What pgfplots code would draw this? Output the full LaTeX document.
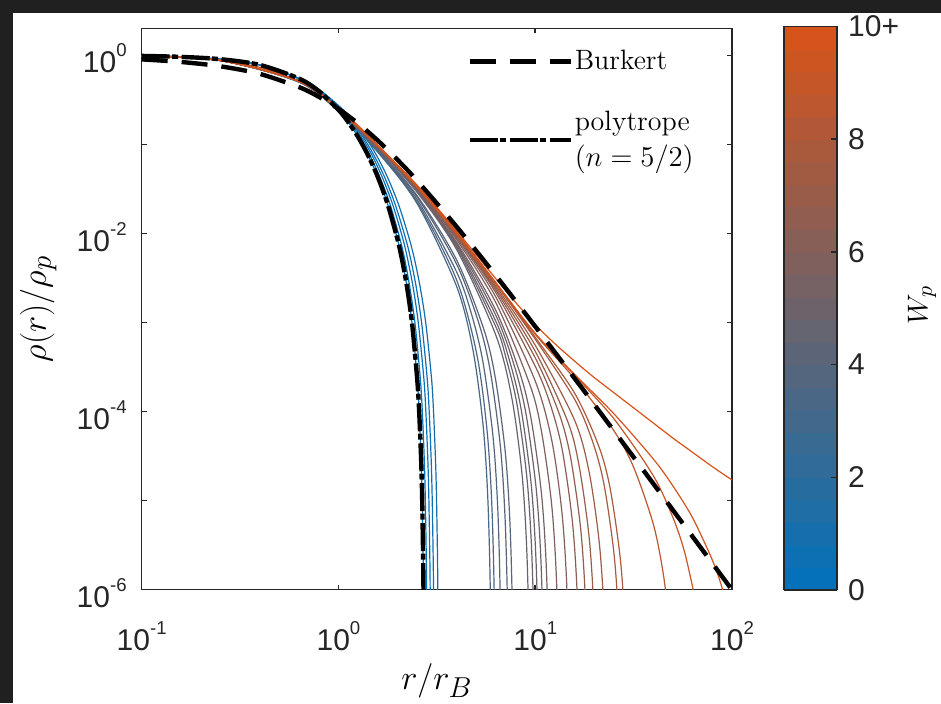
\documentclass[border=0pt]{standalone}
\usepackage{pgfplots}
\pgfplotsset{compat=1.18}
\usepackage{fontspec}
\newfontfamily\arial{Liberation Sans}
\definecolor{wBl}{RGB}{0,114,189}
\definecolor{wOr}{RGB}{217,83,25}
\definecolor{axc}{RGB}{38,38,38}
\definecolor{frame}{RGB}{32,32,32}
\newcommand{\tl}[1]{\mbox{\arial 10\raisebox{8pt}{\fontsize{9.3}{10}\selectfont #1}}}
\begin{document}
\begin{tikzpicture}
\useasboundingbox (0,0) rectangle (470.5pt,351.5pt);
\fill[frame] (0,0) rectangle (470.5pt,351.5pt);
\fill[white] (6.25pt,0) rectangle (470.5pt,345pt);
\begin{axis}[
 at={(70.85pt,56.75pt)}, anchor=south west,
 scale only axis, width=295.15pt, height=280.5pt,
 xmin=-1, xmax=2, ymin=-6, ymax=0.301,
 xtick={-1,0,1,2}, xticklabels={{\tl{-1}},{\tl{0}},{\tl{1}},{\tl{2}}},
 ytick={-6,-5,-4,-3,-2,-1,0}, yticklabels={{\tl{-6}},{},{\tl{-4}},{},{\tl{-2}},{},{\tl{0}}},
 tick align=inside, major tick length=2.5pt,
 ticklabel style={font=\fontsize{15}{18}\selectfont\arial, inner sep=0pt, text=axc},
 xticklabel style={anchor=base, yshift=-30.25pt},
 yticklabel style={anchor=base east, xshift=-7.35pt, yshift=-8.85pt},
 axis line style={axc, line width=0.75pt},
 every tick/.style={axc, line width=0.75pt},
 xlabel={$r/r_B$}, ylabel={$\rho(r)/\rho_p$},
 label style={font=\fontsize{19}{22}\selectfont, inner sep=0pt},
 xlabel style={at={(axis description cs:0.5,-0.131)}, anchor=north},
 ylabel style={at={(axis description cs:-0.1435,0.5)}, anchor=south},
 legend style={draw=none, fill=none, at={(axis description cs:0.551,0.962)}, anchor=north west,
   inner sep=0pt, font=\fontsize{14}{18}\selectfont, row sep=19pt, column sep=1pt,
   nodes={inner sep=0pt}, cells={anchor=west, align=left}},
 legend cell align=left,
 legend image code/.code={\draw[#1] (0pt,0pt) -- (50.5pt,0pt);},
 colormap={wpmap}{rgb255=(0,114,189) rgb255=(217,83,25)},
 point meta min=0, point meta max=10,
 colorbar sampled,
 colorbar style={
   samples=26, scale only axis,
   at={(parent axis.south east)}, anchor=south west,
   xshift=17.36pt, yshift=-0.25pt,
   width=26.5pt, height=281.75pt,
   ytick={0,2,4,6,8,10}, yticklabels={0,2,4,6,8,10+},
   ytick pos=right, yticklabel pos=right,
   tick align=inside, major tick length=3pt,
   every tick/.style={axc, line width=0.75pt},
   axis line style={axc, line width=0.75pt},
   yticklabel style={font=\fontsize{15}{18}\selectfont\arial, anchor=west, xshift=5.5pt, inner sep=0pt, text=axc},
 },
 every axis plot/.append style={line width=0.6pt},
]
% ---- W_p family (log10 r, log10 rho) ----
\addplot[wBl, smooth, forget plot] coordinates {(-1,-0.007) (-0.8,-0.018) (-0.6,-0.044) (-0.4,-0.108) (-0.2,-0.262) (-0.1,-0.402) (0,-0.612) (0.05,-0.751) (0.1,-0.918) (0.15,-1.121) (0.2,-1.367) (0.25,-1.673) (0.3,-2.067) (0.325,-2.316) (0.35,-2.625) (0.375,-3.030) (0.4,-3.632) (0.41,-3.996) (0.42,-4.533) (0.425,-4.940) (0.43,-5.595) (0.432,-6.0) (0.4345,-7.0)};
\addplot[wOr!2!wBl, smooth, forget plot] coordinates {(-1,-0.007) (-0.8,-0.018) (-0.6,-0.044) (-0.4,-0.108) (-0.2,-0.262) (-0.097,-0.402) (0.005,-0.612) (0.0565,-0.751) (0.108,-0.918) (0.159,-1.121) (0.210,-1.367) (0.262,-1.673) (0.313,-2.067) (0.339,-2.316) (0.364,-2.625) (0.390,-3.030) (0.416,-3.632) (0.426,-3.996) (0.436,-4.533) (0.441,-4.940) (0.446,-5.595) (0.448,-6.0) (0.450,-7.0)};
\addplot[wOr!4!wBl, smooth, forget plot] coordinates {(-1,-0.007) (-0.8,-0.018) (-0.6,-0.044) (-0.4,-0.108) (-0.2,-0.262) (-0.094,-0.402) (0.011,-0.612) (0.064,-0.751) (0.117,-0.918) (0.170,-1.121) (0.222,-1.367) (0.275,-1.673) (0.328,-2.067) (0.354,-2.316) (0.381,-2.625) (0.407,-3.030) (0.434,-3.632) (0.444,-3.996) (0.454,-4.533) (0.459,-4.940) (0.464,-5.595) (0.466,-6.0) (0.468,-7.0)};
\addplot[wOr!6!wBl, smooth, forget plot] coordinates {(-1,-0.007) (-0.8,-0.018) (-0.6,-0.044) (-0.4,-0.108) (-0.2,-0.262) (-0.0915,-0.402) (0.017,-0.612) (0.071,-0.751) (0.1255,-0.918) (0.180,-1.121) (0.234,-1.367) (0.288,-1.673) (0.3425,-2.067) (0.3696,-2.316) (0.3968,-2.625) (0.424,-3.030) (0.451,-3.632) (0.461,-3.996) (0.471,-4.533) (0.476,-4.940) (0.481,-5.595) (0.483,-6.0) (0.4855,-7.0)};
\addplot[wOr!8!wBl, smooth, forget plot] coordinates {(-1,-0.007) (-0.8,-0.018) (-0.6,-0.044) (-0.4,-0.108) (-0.2,-0.262) (-0.088,-0.402) (0.024,-0.612) (0.080,-0.751) (0.1365,-0.918) (0.1926,-1.121) (0.2487,-1.367) (0.3048,-1.673) (0.3608,-2.067) (0.3889,-2.316) (0.4169,-2.625) (0.445,-3.030) (0.473,-3.632) (0.483,-3.996) (0.493,-4.533) (0.498,-4.940) (0.503,-5.595) (0.505,-6.0) (0.5075,-7.0)};
\addplot[wOr!34!wBl, smooth, forget plot] coordinates {(-1,-0.010) (-0.6,-0.060) (-0.2,-0.302) (0,-0.631) (0.2,-1.089) (0.4,-1.667) (0.6,-2.593) (0.683,-3.303) (0.734,-4.135) (0.758,-4.924) (0.771,-5.937) (0.778,-7.45)};
\addplot[wOr!36!wBl, smooth, forget plot] coordinates {(-1,-0.010) (-0.6,-0.059) (-0.2,-0.301) (0,-0.628) (0.2,-1.081) (0.4,-1.647) (0.6,-2.521) (0.703,-3.357) (0.754,-4.189) (0.778,-4.978) (0.791,-5.991) (0.798,-7.51)};
\addplot[wOr!38!wBl, smooth, forget plot] coordinates {(-1,-0.010) (-0.6,-0.059) (-0.2,-0.300) (0,-0.625) (0.2,-1.071) (0.4,-1.621) (0.6,-2.431) (0.676,-2.906) (0.734,-3.441) (0.785,-4.272) (0.809,-5.062) (0.822,-6.076) (0.829,-7.59)};
\addplot[wOr!40!wBl, smooth, forget plot] coordinates {(-1,-0.010) (-0.6,-0.059) (-0.2,-0.298) (0,-0.620) (0.2,-1.062) (0.4,-1.593) (0.6,-2.344) (0.713,-3.006) (0.771,-3.540) (0.822,-4.373) (0.846,-5.162) (0.859,-6.176) (0.866,-7.69)};
\addplot[wOr!42!wBl, smooth, forget plot] coordinates {(-1,-0.010) (-0.6,-0.059) (-0.2,-0.297) (0,-0.617) (0.2,-1.056) (0.4,-1.578) (0.6,-2.297) (0.738,-3.073) (0.796,-3.608) (0.847,-4.440) (0.871,-5.230) (0.884,-6.242) (0.891,-7.76)};
\addplot[wOr!46!wBl, smooth, forget plot] coordinates {(-1,-0.010) (-0.6,-0.058) (-0.2,-0.295) (0,-0.612) (0.2,-1.041) (0.4,-1.540) (0.6,-2.180) (0.8,-3.145) (0.880,-3.835) (0.931,-4.663) (0.955,-5.451) (0.968,-6.463) (0.975,-7.98)};
\addplot[wOr!48!wBl, smooth, forget plot] coordinates {(-1,-0.010) (-0.6,-0.058) (-0.2,-0.294) (0,-0.611) (0.2,-1.038) (0.4,-1.530) (0.6,-2.155) (0.8,-3.051) (0.848,-3.371) (0.906,-3.904) (0.957,-4.731) (0.981,-5.518) (0.994,-6.531) (1.001,-8.05)};
\addplot[wOr!50!wBl, smooth, forget plot] coordinates {(-1,-0.010) (-0.6,-0.058) (-0.2,-0.294) (0,-0.610) (0.2,-1.035) (0.4,-1.523) (0.6,-2.136) (0.8,-2.989) (0.869,-3.427) (0.927,-3.959) (0.978,-4.786) (1.002,-5.572) (1.015,-6.578) (1.022,-8.09)};
\addplot[wOr!52!wBl, smooth, forget plot] coordinates {(-1,-0.010) (-0.6,-0.058) (-0.2,-0.293) (0,-0.609) (0.2,-1.032) (0.4,-1.516) (0.6,-2.116) (0.8,-2.922) (0.895,-3.497) (0.953,-4.027) (1.004,-4.851) (1.028,-5.626) (1.041,-6.632) (1.048,-8.14)};
\addplot[wOr!54!wBl, smooth, forget plot] coordinates {(-1,-0.010) (-0.6,-0.058) (-0.2,-0.293) (0,-0.608) (0.2,-1.029) (0.4,-1.510) (0.6,-2.098) (0.8,-2.866) (0.922,-3.568) (0.980,-4.097) (1.031,-4.909) (1.055,-5.684) (1.068,-6.688) (1.075,-8.20)};
\addplot[wOr!58!wBl, smooth, forget plot] coordinates {(-1,-0.010) (-0.6,-0.058) (-0.2,-0.292) (0,-0.606) (0.2,-1.026) (0.4,-1.499) (0.6,-2.070) (0.8,-2.780) (0.973,-3.701) (1.031,-4.215) (1.082,-5.015) (1.106,-5.789) (1.119,-6.792) (1.126,-8.30)};
\addplot[wOr!61!wBl, smooth, forget plot] coordinates {(-1,-0.010) (-0.6,-0.058) (-0.2,-0.291) (0,-0.605) (0.2,-1.022) (0.4,-1.490) (0.6,-2.048) (0.8,-2.716) (1.0,-3.659) (1.084,-4.325) (1.135,-5.120) (1.159,-5.890) (1.172,-6.893)};
\addplot[wOr!64!wBl, smooth, forget plot] coordinates {(-1,-0.010) (-0.6,-0.058) (-0.2,-0.290) (0,-0.604) (0.2,-1.020) (0.4,-1.484) (0.6,-2.030) (0.8,-2.668) (1.0,-3.492) (1.079,-3.937) (1.137,-4.429) (1.188,-5.220) (1.212,-5.990) (1.225,-6.992)};
\addplot[wOr!67!wBl, smooth, forget plot] coordinates {(-1,-0.010) (-0.6,-0.058) (-0.2,-0.290) (0,-0.603) (0.2,-1.018) (0.4,-1.479) (0.6,-2.020) (0.8,-2.639) (1.0,-3.398) (1.121,-4.021) (1.179,-4.509) (1.230,-5.298) (1.254,-6.066) (1.267,-7.07)};
\addplot[wOr!70!wBl, smooth, forget plot] coordinates {(-1,-0.010) (-0.6,-0.058) (-0.2,-0.290) (0,-0.603) (0.2,-1.017) (0.4,-1.476) (0.6,-2.011) (0.8,-2.615) (1.0,-3.325) (1.163,-4.101) (1.221,-4.587) (1.272,-5.372) (1.296,-6.141) (1.309,-7.14)};
\addplot[wOr!73!wBl, smooth, forget plot] coordinates {(-1,-0.010) (-0.6,-0.058) (-0.2,-0.290) (0,-0.602) (0.2,-1.015) (0.4,-1.472) (0.6,-2.002) (0.8,-2.592) (1.0,-3.257) (1.2,-4.099) (1.274,-4.682) (1.325,-5.465) (1.349,-6.232) (1.362,-7.23)};
\addplot[wOr!76!wBl, smooth, forget plot] coordinates {(-1,-0.010) (-0.6,-0.058) (-0.2,-0.290) (0,-0.601) (0.2,-1.013) (0.4,-1.469) (0.6,-1.992) (0.8,-2.567) (1.0,-3.189) (1.2,-3.863) (1.291,-4.335) (1.349,-4.813) (1.400,-5.593) (1.424,-6.359) (1.437,-7.36)};
\addplot[wOr!79!wBl, smooth, forget plot] coordinates {(-1,-0.010) (-0.6,-0.058) (-0.2,-0.290) (0,-0.601) (0.2,-1.012) (0.4,-1.468) (0.6,-1.989) (0.8,-2.559) (1.0,-3.167) (1.2,-3.794) (1.323,-4.391) (1.381,-4.868) (1.432,-5.648) (1.456,-6.414) (1.469,-7.41)};
\addplot[wOr!86!wBl, smooth, forget plot] coordinates {(-1,-0.010) (-0.6,-0.058) (-0.2,-0.291) (0,-0.602) (0.2,-1.015) (0.4,-1.471) (0.6,-1.993) (0.8,-2.555) (1.0,-3.133) (1.2,-3.633) (1.4,-4.217) (1.5,-4.627) (1.6,-5.265) (1.65,-5.813) (1.68,-6.358)};
\addplot[wOr!92!wBl, smooth, forget plot] coordinates {(-1,-0.010) (-0.6,-0.058) (-0.2,-0.293) (0,-0.605) (0.2,-1.018) (0.4,-1.475) (0.6,-1.996) (0.8,-2.557) (1.0,-3.124) (1.2,-3.595) (1.4,-4.083) (1.6,-4.722) (1.7,-5.193) (1.76,-5.588) (1.82,-6.179)};
\addplot[wOr!97!wBl, smooth, forget plot] coordinates {(-1,-0.010) (-0.6,-0.058) (-0.2,-0.295) (0,-0.609) (0.2,-1.024) (0.4,-1.482) (0.6,-2.004) (0.8,-2.565) (1.0,-3.128) (1.2,-3.583) (1.4,-4.027) (1.6,-4.534) (1.7,-4.838) (1.8,-5.196) (1.9,-5.669) (1.95,-5.985) (2.0,-6.413)};
\addplot[wOr, smooth, forget plot] coordinates {(-1,-0.010) (-0.8,-0.024) (-0.6,-0.058) (-0.4,-0.135) (-0.2,-0.290) (-0.1,-0.420) (0,-0.600) (0.1,-0.790) (0.2,-1.010) (0.3,-1.235) (0.4,-1.460) (0.5,-1.710) (0.6,-1.970) (0.7,-2.240) (0.8,-2.510) (0.9,-2.775) (1.0,-3.025) (1.1,-3.240) (1.2,-3.435) (1.3,-3.620) (1.4,-3.790) (1.5,-3.960) (1.6,-4.130) (1.7,-4.300) (1.8,-4.460) (1.9,-4.620) (2.0,-4.770)};
% ---- Burkert ----
\addplot[black, line width=2.2pt, dash pattern=on 13pt off 7pt, smooth] coordinates {(-1,-0.046) (-0.8,-0.075) (-0.6,-0.124) (-0.4,-0.209) (-0.2,-0.358) (-0.1,-0.466) (0,-0.602) (0.1,-0.766) (0.2,-0.958) (0.3,-1.174) (0.4,-1.409) (0.6,-1.924) (0.8,-2.475) (1.0,-3.046) (1.2,-3.628) (1.4,-4.218) (1.6,-4.811) (1.8,-5.407) (2.0,-6.004)};
\addlegendentry{Burkert}
% ---- polytrope n=5/2 ----
\addplot[black, line width=2.2pt, dash pattern=on 14pt off 1.2pt on 3pt off 1.8pt, smooth] coordinates {(-1,-0.007) (-0.8,-0.018) (-0.6,-0.044) (-0.4,-0.108) (-0.2,-0.262) (-0.1,-0.402) (0,-0.612) (0.05,-0.751) (0.1,-0.918) (0.15,-1.121) (0.2,-1.367) (0.25,-1.673) (0.3,-2.067) (0.325,-2.316) (0.35,-2.625) (0.375,-3.030) (0.4,-3.632) (0.41,-3.996) (0.42,-4.533) (0.425,-4.940) (0.43,-5.595) (0.432,-6.0) (0.4345,-7.0)};
\addlegendentry{polytrope\\$(n=5/2)$}
\end{axis}
\node[rotate=90, font=\fontsize{15}{18}\selectfont, inner sep=0pt] at (461pt,199pt) {$W_p$};
\end{tikzpicture}
\end{document}
